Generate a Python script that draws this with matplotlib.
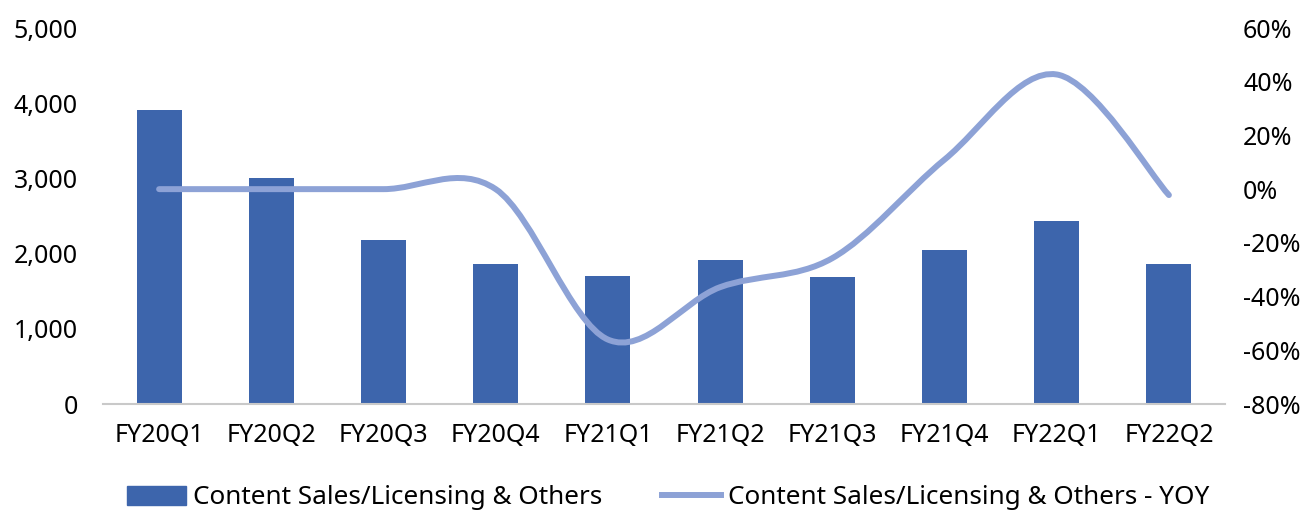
import matplotlib
matplotlib.use("Agg")
import matplotlib.pyplot as plt
from matplotlib.path import Path
from matplotlib.patches import PathPatch
from matplotlib.lines import Line2D
from matplotlib.ticker import FuncFormatter, MultipleLocator
import numpy as np

plt.rcParams['font.family'] = ['Noto Sans', 'DejaVu Sans']

quarters = ["FY20Q1", "FY20Q2", "FY20Q3", "FY20Q4", "FY21Q1",
            "FY21Q2", "FY21Q3", "FY21Q4", "FY22Q1", "FY22Q2"]
sales = [3910, 3005, 2185, 1865, 1700, 1915, 1690, 2050, 2435, 1865]
yoy = [0.0, 0.0, 0.0, 0.0, -0.56, -0.365, -0.257, 0.11, 0.427, -0.022]

bar_label = "Content Sales/Licensing & Others"
line_label = "Content Sales/Licensing & Others - YOY"

bar_color = "#3D65AC"
line_color = "#8DA2D6"
fs = 18
legend_fs = 18.8

fig = plt.figure(figsize=(13.16, 5.11), dpi=100)
ax = fig.add_axes([103 / 1316, 1 - 404 / 511, 1122 / 1316, 376 / 511])
ax2 = ax.twinx()

x = np.arange(len(quarters))
ax.bar(x, sales, width=0.4, color=bar_color, zorder=2)
ax.set_xlim(-0.5, len(quarters) - 0.5)
ax.set_ylim(0, 5000)
ax.yaxis.set_major_locator(MultipleLocator(1000))
ax.yaxis.set_major_formatter(FuncFormatter(lambda v, p: f"{int(v):,}"))
ax.set_xticks(x)
ax.set_xticklabels(quarters)

# smoothed YOY line: Catmull-Rom segments as cubic Bezier curves
pts = np.column_stack([x, yoy]).astype(float)
n = len(pts)
verts = [tuple(pts[0])]
codes = [Path.MOVETO]
for i in range(n - 1):
    p_prev = pts[max(i - 1, 0)]
    p0 = pts[i]
    p1 = pts[i + 1]
    p_next = pts[min(i + 2, n - 1)]
    c1 = p0 + (p1 - p_prev) / 6.0
    c2 = p1 - (p_next - p0) / 6.0
    verts += [tuple(c1), tuple(c2), tuple(p1)]
    codes += [Path.CURVE4] * 3
curve = PathPatch(Path(verts, codes), facecolor="none", edgecolor=line_color,
                  linewidth=4.3, capstyle="round", joinstyle="round", zorder=3)
ax2.add_patch(curve)
ax2.set_ylim(-0.8, 0.6)
ax2.yaxis.set_major_locator(MultipleLocator(0.2))
ax2.yaxis.set_major_formatter(FuncFormatter(lambda v, p: f"{round(v * 100):d}%"))

for a in (ax, ax2):
    for s in ("top", "left", "right", "bottom"):
        a.spines[s].set_visible(False)
    a.tick_params(length=0, labelsize=fs, colors="#000000")
ax.spines["bottom"].set_visible(True)
ax.spines["bottom"].set_color("#C9C9C9")
ax.spines["bottom"].set_linewidth(1.5)
ax.tick_params(axis="y", pad=18)
ax.tick_params(axis="x", pad=14)
ax2.tick_params(axis="y", pad=13)
ax2.set_zorder(ax.get_zorder() + 1)
ax2.patch.set_visible(False)

handles = [plt.Rectangle((0, 0), 1, 1, color=bar_color),
           Line2D([0], [0], color=line_color, linewidth=4.3)]
fig.legend(handles, [bar_label, line_label], loc="center",
           bbox_to_anchor=(668 / 1316, 1 - 498 / 511), ncol=2, frameon=False,
           fontsize=legend_fs, handlelength=2.25, handletextpad=0.27,
           columnspacing=2.3, borderaxespad=0, borderpad=0)

fig.savefig("out.png", dpi=100)
